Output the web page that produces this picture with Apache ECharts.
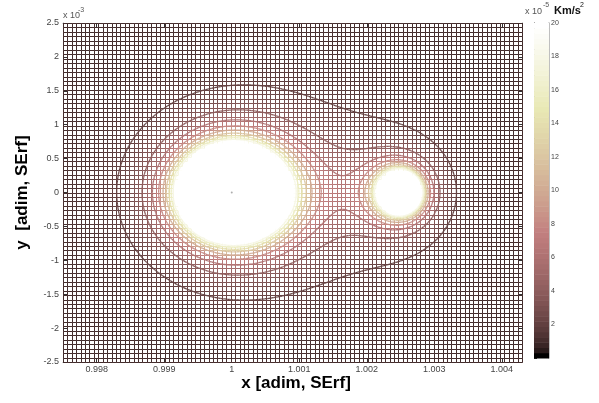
<!DOCTYPE html>
<html>
<head>
<meta charset="utf-8">
<script src="https://cdn.jsdelivr.net/npm/echarts@6/dist/echarts.min.js"></script>
<style>
html,body{margin:0;padding:0;background:#fff}
#chart{width:599px;height:403px}
</style>
</head>
<body>
<div id="chart"></div>
<script>
// plot window: x in adim units, y in units of 1e-3
var xRange = [0.9975, 1.0043];
var yRange = [-2.5, 2.5];
var meshCount = [104, 76];

// two attracting bodies
var bodyX = [1.0, 1.0025];
var bodyY = [0, 0];
var bodyStrength = [1.59, 0.47];
var bodyStretchY = [0.88, 1.0];
var fieldPower = 4.2;
var fieldFloor = 0.8;
var clipValue = 20;

var contourLevels = [2, 4, 6, 8, 10, 12, 14, 16, 18];
var colorbarRange = [0, 20];
var colorbarSteps = 64;

function field(x, y) {
  var phi = 0;
  for (var k = 0; k < bodyX.length; k++) {
    var du = (x - bodyX[k]) * 1000;
    var dv = (y - bodyY[k]) / bodyStretchY[k];
    var r = Math.max(Math.sqrt(du * du + dv * dv), 1e-3);
    phi += bodyStrength[k] / r;
  }
  return Math.min(Math.pow(phi, fieldPower) + fieldFloor, 1000);
}

// matlab "pink" colormap
function pinkColor(t) {
  var hot = [
    Math.min(1, t / 0.375),
    Math.min(1, Math.max(0, (t - 0.375) / 0.375)),
    Math.max(0, (t - 0.75) / 0.25)
  ];
  var c = hot.map(function (h) { return Math.round(255 * Math.sqrt((2 * t + h) / 3)); });
  return 'rgb(' + c.join(',') + ')';
}
var pinkMap = [];
for (var k = 0; k < colorbarSteps; k++) pinkMap.push(pinkColor(k / (colorbarSteps - 1)));

// mesh edges
var dx = (xRange[1] - xRange[0]) / meshCount[0];
var dy = (yRange[1] - yRange[0]) / meshCount[1];
var meshData = [];
for (var i = 0; i <= meshCount[0]; i++) {
  for (var j = 0; j <= meshCount[1]; j++) {
    var x = xRange[0] + i * dx, y = yRange[0] + j * dy;
    var f0 = field(x, y);
    if (i < meshCount[0]) {
      var f1 = field(x + dx, y);
      meshData.push([x, y, x + dx, y, Math.min(clipValue, (f0 + f1) / 2)]);
    }
    if (j < meshCount[1]) {
      var f2 = field(x, y + dy);
      meshData.push([x, y, x, y + dy, Math.min(clipValue, (f0 + f2) / 2)]);
    }
  }
}

// contour lines by marching squares on a finer grid
var fine = 3;
var nfx = meshCount[0] * fine, nfy = meshCount[1] * fine;
var fdx = dx / fine, fdy = dy / fine;
var grid = [];
for (var i = 0; i <= nfx; i++) {
  grid.push([]);
  for (var j = 0; j <= nfy; j++) grid[i].push(field(xRange[0] + i * fdx, yRange[0] + j * fdy));
}
var contourData = [];
contourLevels.forEach(function (L) {
  for (var i = 0; i < nfx; i++) {
    for (var j = 0; j < nfy; j++) {
      var x0 = xRange[0] + i * fdx, y0 = yRange[0] + j * fdy;
      var c = [[x0, y0, grid[i][j]], [x0 + fdx, y0, grid[i + 1][j]],
               [x0 + fdx, y0 + fdy, grid[i + 1][j + 1]], [x0, y0 + fdy, grid[i][j + 1]]];
      var pts = [];
      for (var e = 0; e < 4; e++) {
        var a = c[e], b = c[(e + 1) % 4];
        if ((a[2] > L) !== (b[2] > L)) {
          var t = (L - a[2]) / (b[2] - a[2]);
          pts.push([a[0] + t * (b[0] - a[0]), a[1] + t * (b[1] - a[1])]);
        }
      }
      if (pts.length === 2) {
        contourData.push([pts[0][0], pts[0][1], pts[1][0], pts[1][1], L]);
      } else if (pts.length === 4) {
        contourData.push([pts[0][0], pts[0][1], pts[1][0], pts[1][1], L]);
        contourData.push([pts[2][0], pts[2][1], pts[3][0], pts[3][1], L]);
      }
    }
  }
});

// colorbar bands
var colorbarData = [];
for (var k = 0; k < colorbarSteps; k++) {
  var v0 = colorbarRange[0] + (colorbarRange[1] - colorbarRange[0]) * k / colorbarSteps;
  var v1 = colorbarRange[0] + (colorbarRange[1] - colorbarRange[0]) * (k + 1) / colorbarSteps;
  colorbarData.push([0, v0, 1, v1, colorbarRange[1] * k / (colorbarSteps - 1)]);
}

function snap(v) { return Math.round(v) + 0.5; }

function segment(width, crisp) {
  return function (params, api) {
    var p0 = api.coord([api.value(0), api.value(1)]);
    var p1 = api.coord([api.value(2), api.value(3)]);
    if (crisp) { p0 = [snap(p0[0]), snap(p0[1])]; p1 = [snap(p1[0]), snap(p1[1])]; }
    return {
      type: 'line',
      shape: { x1: p0[0], y1: p0[1], x2: p1[0], y2: p1[1] },
      style: { stroke: api.visual('color'), lineWidth: width }
    };
  };
}

var font = 'Liberation Sans, Arial, sans-serif';
var axisLine = { show: true, onZero: false, lineStyle: { color: '#9a9a9a', width: 1 } };
var tick = { show: true, inside: true, length: 4, lineStyle: { color: '#333' } };

var chart = echarts.init(document.getElementById('chart'));
chart.setOption({
  animation: false,
  backgroundColor: '#fff',
  grid: [
    { left: 63, top: 23, width: 459, height: 339 },
    { left: 534, top: 23, width: 15, height: 335 }
  ],
  xAxis: [
    { type: 'value', gridIndex: 0, min: xRange[0], max: xRange[1], minInterval: 0.001, maxInterval: 0.001,
      position: 'bottom', axisLine: axisLine, axisTick: tick, splitLine: { show: false },
      axisLabel: { showMinLabel: false, showMaxLabel: false, fontSize: 9, color: '#444', margin: 3, fontFamily: font } },
    { type: 'value', gridIndex: 0, min: xRange[0], max: xRange[1], minInterval: 0.001, maxInterval: 0.001,
      position: 'top', axisLine: axisLine, axisTick: tick, splitLine: { show: false }, axisLabel: { show: false } },
    { type: 'value', gridIndex: 1, min: 0, max: 1, show: false }
  ],
  yAxis: [
    { type: 'value', gridIndex: 0, min: yRange[0], max: yRange[1], interval: 0.5,
      position: 'left', axisLine: axisLine, axisTick: tick, splitLine: { show: false },
      axisLabel: { fontSize: 9, color: '#444', margin: 4, fontFamily: font },
      name: 'y  [adim, SErf]', nameLocation: 'middle', nameGap: 32,
      nameTextStyle: { fontSize: 17, fontWeight: 'bold', color: '#000', fontFamily: font } },
    { type: 'value', gridIndex: 0, min: yRange[0], max: yRange[1], interval: 0.5,
      position: 'right', axisLine: axisLine, axisTick: tick, splitLine: { show: false }, axisLabel: { show: false } },
    { type: 'value', gridIndex: 1, min: colorbarRange[0], max: colorbarRange[1], interval: 2,
      position: 'right', axisLine: { show: true, onZero: false, lineStyle: { color: '#aaa', width: 1.5 } },
      axisTick: { show: true, inside: true, length: 3, lineStyle: { color: '#333' } }, splitLine: { show: false },
      axisLabel: { showMinLabel: false, fontSize: 7, color: '#444', margin: 2, fontFamily: font } },
    { type: 'value', gridIndex: 1, min: colorbarRange[0], max: colorbarRange[1], interval: 2,
      position: 'left', axisLine: { show: true, onZero: false, lineStyle: { color: '#333', width: 1 } },
      axisTick: { show: true, inside: true, length: 3, lineStyle: { color: '#333' } }, splitLine: { show: false },
      axisLabel: { show: false } }
  ],
  visualMap: {
    type: 'continuous', show: false, min: colorbarRange[0], max: colorbarRange[1],
    dimension: 4, seriesIndex: [0, 1, 2], inRange: { color: pinkMap }
  },
  series: [
    { type: 'custom', xAxisIndex: 0, yAxisIndex: 0, data: meshData, renderItem: segment(1, true),
      encode: { x: [0, 2], y: [1, 3] }, progressive: 0, silent: true, z: 2 },
    { type: 'custom', xAxisIndex: 0, yAxisIndex: 0, data: contourData, renderItem: segment(1.3, false),
      encode: { x: [0, 2], y: [1, 3] }, progressive: 0, silent: true, z: 3 },
    { type: 'custom', xAxisIndex: 2, yAxisIndex: 2, data: colorbarData, silent: true, z: 2,
      encode: { x: [0, 2], y: [1, 3] },
      renderItem: function (params, api) {
        var p0 = api.coord([api.value(0), api.value(1)]);
        var p1 = api.coord([api.value(2), api.value(3)]);
        return { type: 'rect', shape: { x: p0[0], y: p1[1], width: p1[0] - p0[0], height: p0[1] - p1[1] + 0.5 },
                 style: { fill: api.visual('color') } };
      } },
    { type: 'scatter', xAxisIndex: 0, yAxisIndex: 0, data: [[bodyX[0], bodyY[0]]], symbolSize: 2,
      itemStyle: { color: '#999' }, silent: true, z: 4 }
  ],
  graphic: [
    { type: 'text', left: 63, top: 11, style: { text: 'x 10', fontSize: 9, fill: '#555', fontFamily: font } },
    { type: 'text', left: 78, top: 7, style: { text: '-3', fontSize: 7, fill: '#555', fontFamily: font } },
    { type: 'text', left: 525, top: 7, style: { text: 'x 10', fontSize: 9, fill: '#555', fontFamily: font } },
    { type: 'text', left: 543, top: 2, style: { text: '-5', fontSize: 7, fill: '#555', fontFamily: font } },
    { type: 'text', left: 554, top: 5, style: { text: 'Km/s', fontSize: 11, fontWeight: 'bold', fill: '#111', fontFamily: font } },
    { type: 'text', left: 580, top: 2, style: { text: '2', fontSize: 7, fill: '#111', fontFamily: font } },
    { type: 'text', x: 296, y: 383, style: { text: 'x [adim, SErf]', fontSize: 17, fontWeight: 'bold', fill: '#000',
      fontFamily: font, align: 'center', verticalAlign: 'middle' } }
  ]
});
</script>
</body>
</html>
